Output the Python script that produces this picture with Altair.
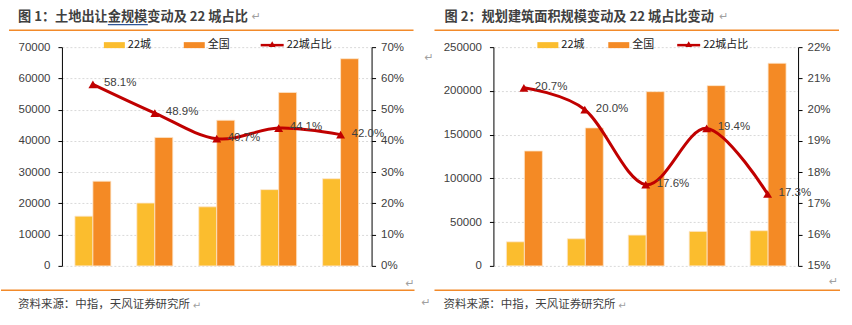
import altair as alt
import pandas as pd

# ---------------- data ----------------
years = ["2016", "2017", "2018", "2019", "2020"]
series_names = ["22城", "全国", "22城占比"]

land_22 = [15900, 20100, 18900, 24400, 27900]
land_all = [27100, 41100, 46600, 55500, 66300]
land_ratio = [58.1, 48.9, 40.7, 44.1, 42.0]

area_22 = [27500, 31000, 35200, 39400, 40200]
area_all = [131300, 157700, 199100, 206000, 231600]
area_ratio = [20.7, 20.0, 17.6, 19.4, 17.3]

title1 = "图 1：土地出让金规模变动及 22 城占比"
title2 = "图 2：规划建筑面积规模变动及 22 城占比变动"
source_text = "资料来源：中指，天风证券研究所"
para_mark = "↵"

YELLOW = "#FBBD2E"
ORANGE = "#F48A25"
RED = "#C00000"
TXT = "#404040"
FONT = "Liberation Sans"
CJK = "Noto Sans CJK SC"


def one(text):
    return pd.DataFrame({"t": [text]})


def text_layer(text, x, y, size=11, color="#1a1a1a", weight="normal", font=CJK):
    return alt.Chart(one(text)).mark_text(
        align="left", baseline="middle", fontSize=size, color=color,
        fontWeight=weight, font=font, clip=False
    ).encode(text="t:N", x=alt.value(x), y=alt.value(y))


def rule_layer(x1, x2, y, color, width):
    return alt.Chart(one("r")).mark_rule(color=color, strokeWidth=width, clip=False).encode(
        x=alt.value(x1), x2=alt.value(x2), y=alt.value(y)
    )


def rect_layer(x1, x2, y1, y2, color, opacity=1):
    return alt.Chart(one("r")).mark_rect(color=color, opacity=opacity, clip=False).encode(
        x=alt.value(x1), x2=alt.value(x2), y=alt.value(y1), y2=alt.value(y2)
    )


def tri_layer(x, y):
    return alt.Chart(one("p")).mark_point(
        shape="triangle-up", filled=True, color=RED, size=45, opacity=1, clip=False
    ).encode(x=alt.value(x), y=alt.value(y))


def panel(v22, vall, ratio, title, W, H, ymax, ystep, rmin, rmax, rstep, leg, geo):
    bars = pd.DataFrame({
        "year": years * 2,
        "series": [series_names[0]] * 5 + [series_names[1]] * 5,
        "value": v22 + vall,
    })
    line = pd.DataFrame({"year": years, "ratio": [r / 100 for r in ratio],
                         "label": [f"{r:.1f}%" for r in ratio]})

    pin = 26 / (W / 5)
    xscale = alt.Scale(paddingInner=pin, paddingOuter=pin / 2)
    xaxis = alt.Axis(
        title=None, labelAngle=0, domainColor="#8c8c8c", domainWidth=2,
        tickColor="#333333", tickSize=4, tickBand="extent", labelFont=FONT,
        labelFontSize=11.5, labelColor=TXT, labelPadding=5, grid=False
    )

    bar = alt.Chart(bars).mark_bar(stroke="#fde6cc", strokeWidth=0.8).encode(
        x=alt.X("year:O", scale=xscale, axis=xaxis),
        xOffset=alt.XOffset("series:N", sort=series_names[:2]),
        y=alt.Y("value:Q",
                scale=alt.Scale(domain=[0, ymax], nice=False, zero=True),
                axis=alt.Axis(
                    title=None, values=list(range(0, ymax + 1, ystep)), orient="left", format="d",
                    domainColor="#000000", domainWidth=1, tickColor="#000000", tickSize=4,
                    labelPadding=8, labelFont=FONT, labelFontSize=11.5, labelColor=TXT,
                    grid=True, gridColor="#d9d9d9", gridDash=[2, 2], gridWidth=1,
                )),
        color=alt.Color("series:N", scale=alt.Scale(domain=series_names[:2], range=[YELLOW, ORANGE]),
                        legend=None),
    )

    rvals = [round(rmin + i * rstep, 4) for i in range(int(round((rmax - rmin) / rstep)) + 1)]
    ry = alt.Y("ratio:Q",
               scale=alt.Scale(domain=[rmin, rmax], nice=False, zero=False),
               axis=alt.Axis(
                   title=None, orient="right", values=rvals, format=".0%",
                   domainColor="#000000", tickColor="#000000", tickSize=4, labelPadding=5,
                   labelFont=FONT, labelFontSize=11.5, labelColor=TXT, grid=False,
               ))
    lx = alt.X("year:O", scale=xscale, axis=None)
    ln = alt.Chart(line).mark_line(color=RED, strokeWidth=3, interpolate="cardinal").encode(x=lx, y=ry)
    pts = alt.Chart(line).mark_point(shape="triangle-up", filled=True, color=RED, size=80, opacity=1).encode(
        x=lx, y=ry)
    lbl = alt.Chart(line).mark_text(align="left", baseline="middle", dx=11, dy=-1, fontSize=11.5,
                                    font=FONT, color=TXT).encode(x=lx, y=ry, text="label:N")

    main = alt.layer(bar, ln + pts + lbl).resolve_scale(y="independent")

    g = geo
    deco = [
        # invisible frame fixing the panel's outer extent
        rect_layer(g["fx1"], g["fx2"], -47, 278, "#ffffff", opacity=0),
        text_layer(title, g["tx"], -30, size=13.2, color=TXT, weight="bold"),
        text_layer(para_mark, g["tpx"], -30, size=11, color="#a0a0a0", font="DejaVu Sans"),
        rule_layer(g["lx1"], g["lx2"], -17, "#F28A2A", 1.5),
        rule_layer(g["bx1"], g["bx2"], 243.5, "#F28A2A", 1.5),
        text_layer(source_text, g["sx"], 258, size=11.5, color=TXT),
        text_layer(para_mark, g["spx"], 259, size=10, color="#a0a0a0", font="DejaVu Sans"),
        text_layer(para_mark, g["rpx"], g["rpy"], size=11, color="#a0a0a0", font="DejaVu Sans"),
        # legend
        rect_layer(leg[0], leg[0] + 21, -5, 1, YELLOW),
        text_layer(series_names[0], leg[0] + 24, -2),
        rect_layer(leg[1], leg[1] + 21, -5, 1, ORANGE),
        text_layer(series_names[1], leg[1] + 24, -2),
        rule_layer(leg[2], leg[2] + 23, -2, RED, 2.5),
        tri_layer(leg[2] + 11.5, -3),
        text_layer(series_names[2], leg[2] + 26, -2),
    ]
    if "ux1" in g:
        deco.append(rule_layer(g["ux1"], g["ux2"], -22.5, "#2F5597", 1.2))
    if "extra" in g:
        for (xx, yy) in g["extra"]:
            deco.append(text_layer(para_mark, xx, yy, size=11, color="#a0a0a0", font="DejaVu Sans"))

    return alt.layer(main, *deco).properties(width=W, height=H)


p1 = panel(land_22, land_all, land_ratio, title1, 310, 219, 70000, 10000, 0.0, 0.70, 0.10,
           [42, 122, 199],
           {"fx1": -61, "fx2": 300, "tx": -44, "tpx": 190, "lx1": -53, "lx2": 352, "bx1": -61, "bx2": 353,
            "sx": -44, "spx": 131, "rpx": 363, "rpy": 11, "ux1": 46, "ux2": 86,
            "extra": [(344, 237)]})
p2 = panel(area_22, area_all, area_ratio, title2, 305, 219, 250000, 50000, 0.15, 0.22, 0.01,
           [44, 115, 184],
           {"fx1": 0, "fx2": 359, "tx": -49, "tpx": 226, "lx1": -59, "lx2": 346, "bx1": -59, "bx2": 347,
            "sx": -50, "spx": 125, "rpx": 336, "rpy": 235,
            "extra": [(-72, 256)]})

chart = alt.hconcat(p1, p2, spacing=122, bounds="flush").properties(
    padding=0,
    background="white",
).configure_view(stroke=None).configure_concat(spacing=122)

chart.save("out.html", embed_options={"renderer": "svg", "actions": False})
